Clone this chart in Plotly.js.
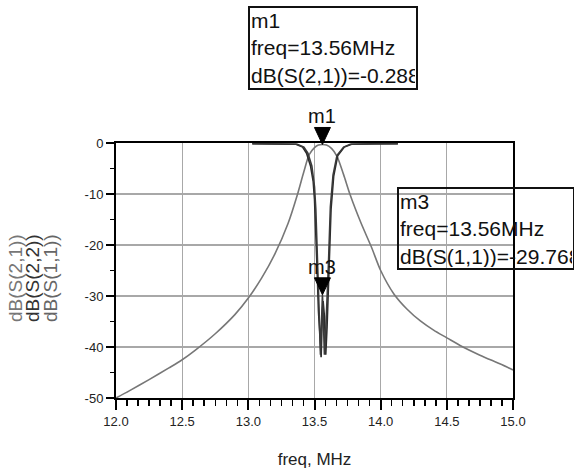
<!DOCTYPE html>
<html>
<head>
<meta charset="utf-8">
<script src="https://cdn.plot.ly/plotly-3.0.1.min.js"></script>
<style>html,body{margin:0;padding:0;background:#fff;}#chart{width:574px;height:475px;}</style>
</head>
<body>
<div id="chart"></div>
<script>
// ---- data ----
const s21Freq = [12.0, 12.1, 12.25, 12.4, 12.5, 12.6, 12.75, 12.9, 13.0, 13.1, 13.2, 13.3, 13.37, 13.42, 13.46, 13.5, 13.53, 13.56, 13.59, 13.63, 13.67, 13.72, 13.77, 13.85, 13.93, 14.0, 14.1, 14.2, 14.3, 14.4, 14.5, 14.6, 14.75, 14.9, 15.0];
const s21dB   = [-50, -48.6, -46.4, -44.1, -42.5, -40.6, -37.4, -33.6, -30.4, -26.5, -21.8, -15.8, -10.2, -5.6, -2.3, -0.9, -0.4, -0.29, -0.4, -1.1, -2.6, -6.2, -10.2, -15.6, -20.4, -25.0, -29.6, -32.6, -34.9, -36.7, -38.2, -39.7, -41.6, -43.3, -44.5];

const s11Freq = [13.03, 13.2, 13.37, 13.42, 13.45, 13.48, 13.50, 13.51, 13.52, 13.53, 13.54, 13.545, 13.55, 13.56, 13.565, 13.575, 13.58, 13.59, 13.605, 13.62, 13.64, 13.67, 13.72, 13.77, 13.95, 14.13];
const s11dB   = [-0.15, -0.15, -0.25, -0.8, -2.0, -4.5, -8.6, -13, -20, -28, -37, -41.5, -36, -29.77, -33, -41.5, -40, -34, -24, -12.5, -6.3, -2.4, -0.8, -0.25, -0.15, -0.15];

const s22Freq = [13.03, 13.2, 13.36, 13.41, 13.44, 13.47, 13.49, 13.5, 13.51, 13.52, 13.53, 13.54, 13.55, 13.56, 13.565, 13.575, 13.585, 13.595, 13.61, 13.625, 13.645, 13.675, 13.725, 13.78, 13.95, 14.13];
const s22dB   = [-0.15, -0.15, -0.25, -0.8, -2.0, -4.5, -7.5, -11, -17, -25, -33, -39, -42, -33, -31, -34, -41.5, -36, -25, -13, -6.5, -2.5, -0.8, -0.25, -0.15, -0.15];

const xRange = [12, 15];
const yRange = [-50, 0];
const xTickVals = [12.0, 12.5, 13.0, 13.5, 14.0, 14.5, 15.0];
const xTickText = ["12.0", "12.5", "13.0", "13.5", "14.0", "14.5", "15.0"];
const yTickVals = [0, -10, -20, -30, -40, -50];
const yTickText = ["0", "-10", "-20", "-30", "-40", "-50"];

const markerNames = ["m1", "m3"];
const markerFreq  = [13.56, 13.56];
const markerVal   = [-0.288, -29.768];
const markerExpr  = ["dB(S(2,1))", "dB(S(1,1))"];

// ---- traces ----
const traces = [
  {x: s21Freq, y: s21dB, type: 'scatter', mode: 'lines', name: 'dB(S(2,1))',
   line: {color: '#777777', width: 1.6, shape: 'spline', smoothing: 0.8}},
  {x: s22Freq, y: s22dB, type: 'scatter', mode: 'lines', name: 'dB(S(2,2))',
   line: {color: '#2a2a2a', width: 1.6}},
  {x: s11Freq, y: s11dB, type: 'scatter', mode: 'lines', name: 'dB(S(1,1))',
   line: {color: '#3a3a3a', width: 1.6}}
];

// marker triangles: x on the data axis, y as a fraction of the (linear) y axis range
const shapes = markerNames.map((n, i) => ({
  type: 'path', xref: 'x', yref: 'paper', xsizemode: 'pixel', ysizemode: 'pixel',
  xanchor: markerFreq[i], yanchor: (markerVal[i] - yRange[0]) / (yRange[1] - yRange[0]),
  path: 'M-8,17L8,17L0,0Z', fillcolor: '#000', line: {color: '#000', width: 1}, layer: 'above'
}));

const font = 'Liberation Sans, Arial, sans-serif';
const annotations = [];
markerNames.forEach((n, i) => {
  annotations.push({x: markerFreq[i], y: markerVal[i], xref: 'x', yref: 'y', text: n,
    showarrow: false, yshift: 28, font: {family: font, size: 20, color: '#111'}});
});
// readout boxes
const boxPos = [
  {x: (248-116)/397, y: (398-6)/255, w: 164, h: 78},
  {x: (397-116)/397, y: (398-187)/255, w: 172, h: 77}
];
markerNames.forEach((n, i) => {
  annotations.push({xref: 'paper', yref: 'paper', x: boxPos[i].x, y: boxPos[i].y,
    xanchor: 'left', yanchor: 'top', align: 'left', valign: 'top', showarrow: false,
    width: boxPos[i].w, height: boxPos[i].h, borderpad: 1, borderwidth: 2, bordercolor: '#111',
    text: n + '<br>freq=' + markerFreq[i] + 'MHz<br>' + markerExpr[i] + '=' + markerVal[i],
    font: {family: font, size: 21, color: '#111'}});
});
// stacked y-axis titles
const yTitles = ['dB(S(2,1))', 'dB(S(2,2))', 'dB(S(1,1))'];
const yTitleColors = ['#777', '#333', '#666'];
const yTitleShift = [-101, -84, -66];
yTitles.forEach((t, i) => {
  annotations.push({xref: 'paper', yref: 'paper', x: 0, y: (398-278)/255, xshift: yTitleShift[i],
    xanchor: 'center', yanchor: 'middle', textangle: -90, showarrow: false, text: t,
    font: {family: font, size: 19, color: yTitleColors[i]}});
});

const layout = {
  width: 574, height: 475,
  margin: {l: 116, r: 61, t: 143, b: 77},
  paper_bgcolor: '#fff', plot_bgcolor: '#fff',
  showlegend: false,
  xaxis: {
    range: xRange, tickvals: xTickVals, ticktext: xTickText,
    showgrid: true, gridcolor: '#a8a8a8', gridwidth: 1.2,
    showline: true, linecolor: '#000', linewidth: 2, mirror: true,
    ticks: 'outside', ticklen: 10, tickwidth: 2, tickcolor: '#000',
    minor: {dtick: 0.5/6, tick0: 12, ticks: 'outside', ticklen: 6, tickwidth: 1.5, tickcolor: '#000', showgrid: false},
    zeroline: false,
    tickfont: {family: font, size: 13, color: '#222'},
    title: {text: 'freq, MHz', font: {family: font, size: 17, color: '#222'}, standoff: 26}
  },
  yaxis: {
    range: yRange, tickvals: yTickVals, ticktext: yTickText,
    showgrid: true, gridcolor: '#a8a8a8', gridwidth: 1.2,
    showline: true, linecolor: '#000', linewidth: 2, mirror: true,
    ticks: 'outside', ticklen: 8, tickwidth: 2, tickcolor: '#000',
    minor: {dtick: 5, tick0: 0, ticks: 'outside', ticklen: 4, tickwidth: 1.5, tickcolor: '#000', showgrid: false},
    zeroline: false,
    tickfont: {family: font, size: 13, color: '#222'}
  },
  shapes: shapes,
  annotations: annotations
};

Plotly.newPlot('chart', traces, layout, {displayModeBar: false, staticPlot: true});
</script>
</body>
</html>
